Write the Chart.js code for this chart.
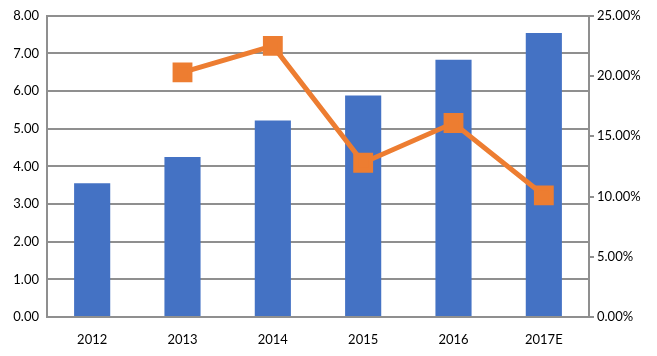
<!DOCTYPE html>
<html><head><meta charset="utf-8">
<script src="https://cdn.jsdelivr.net/npm/chart.js@4"></script>
<style>html,body{margin:0;padding:0;background:#fff;}#wrap{width:657px;height:356px;}</style>
</head><body><div id="wrap"><canvas id="c" width="657" height="356"></canvas></div>
<script>
const categories = ["2012","2013","2014","2015","2016","2017E"];
const barValues = [3.55, 4.25, 5.22, 5.88, 6.83, 7.54];
const growthValues = [null, 20.3, 22.5, 12.8, 16.1, 10.1];
const leftTicks = [0,1,2,3,4,5,6,7,8];
const rightTicks = [0,5,10,15,20,25];

const gridColor = '#8f8f8f';
const font = {family: 'Lato, "Open Sans", sans-serif', size: 13};
new Chart(document.getElementById('c'), {
  data: {
    labels: categories,
    datasets: [
      {type:'line', data: growthValues, yAxisID:'y1', borderColor:'#ED7D31', backgroundColor:'#ED7D31',
       borderWidth:5, pointStyle:'rect', pointRadius:10.5, pointHoverRadius:10.5, order:0, spanGaps:false, tension:0},
      {type:'bar', data: barValues, yAxisID:'y', backgroundColor:'#4472C4', barPercentage:0.4, categoryPercentage:1, order:1}
    ]
  },
  options: {
    responsive:false, animation:false, devicePixelRatio:1,
    layout:{padding:{top:13, bottom:0}},
    plugins:{legend:{display:false}, tooltip:{enabled:false}},
    scales:{
      x:{grid:{display:false}, border:{color:gridColor, width:2}, afterFit:s=>{s.height=39;},
         ticks:{color:'#000', font, padding:7}},
      y:{position:'left', min:0, max:8, afterBuildTicks:s=>{s.ticks=leftTicks.map(v=>({value:v}));},
         afterFit:s=>{s.width=47;},
         grid:{color:gridColor, lineWidth:2, drawTicks:false}, border:{color:gridColor, width:2},
         ticks:{color:'#000', font, padding:8, callback:v=>v.toFixed(2)}},
      y1:{position:'right', min:0, max:25, afterBuildTicks:s=>{s.ticks=rightTicks.map(v=>({value:v}));},
         afterFit:s=>{s.width=68;},
         grid:{display:true, drawOnChartArea:false, drawTicks:true, tickLength:5, color:gridColor, lineWidth:2}, border:{color:gridColor, width:2},
         ticks:{color:'#000', font, padding:3, callback:v=>v.toFixed(2)+'%'}}
    }
  }
});
</script></body></html>
